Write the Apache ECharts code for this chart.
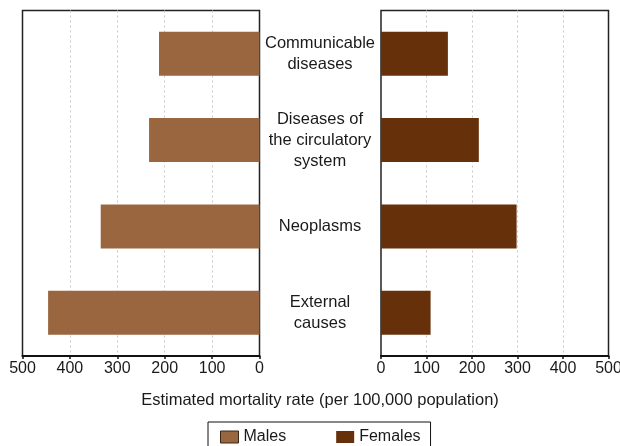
<!DOCTYPE html>
<html>
<head>
<meta charset="utf-8">
<script src="https://cdn.jsdelivr.net/npm/echarts@6/dist/echarts.min.js"></script>
<style>html,body{margin:0;padding:0;background:#fff}#c{width:620px;height:446px}</style>
</head>
<body>
<div id="c"></div>
<script>
var categories = ['Communicable\ndiseases', 'Diseases of\nthe circulatory\nsystem', 'Neoplasms', 'External\ncauses'];
var males = [212, 233, 335, 446];
var females = [147, 215, 298, 109];
var tickLabels = ['0', '100', '200', '300', '400', '500'];
var axisTitle = 'Estimated mortality rate (per 100,000 population)';

var FONT = 'Liberation Sans';
var chart = echarts.init(document.getElementById('c'), null, {renderer: 'canvas'});
function xAx(idx, inverse) {
  return {
    type: 'value', gridIndex: idx, min: 0, max: 500, interval: 100, inverse: inverse,
    axisLine: {show: true, onZero: false, lineStyle: {color: '#111', width: 2}},
    axisTick: {show: true, length: 3, lineStyle: {color: '#111', width: 1.5}},
    axisLabel: {fontFamily: FONT, fontSize: 16, color: '#1a1a1a', margin: 5,
      formatter: function (v) { return tickLabels[v / 100]; }},
    splitLine: {show: true, showMinLine: false, showMaxLine: false,
      lineStyle: {color: '#c8c8c8', type: [2, 3], width: 1}}
  };
}
var option = {
  animation: false,
  backgroundColor: '#fff',
  title: {text: axisTitle, left: 315, textAlign: 'center', top: 387,
    textStyle: {fontFamily: FONT, fontSize: 16.5, fontWeight: 'normal', color: '#1a1a1a'}},
  legend: {
    left: 208, top: 422, orient: 'horizontal', icon: 'rect',
    borderColor: '#111', borderWidth: 1, padding: [7, 10, 10, 12],
    itemWidth: 18, itemHeight: 12, itemGap: 50,
    textStyle: {fontFamily: FONT, fontSize: 16, color: '#1a1a1a'},
    data: [{name: 'Males', itemStyle: {borderColor: '#3a2616', borderWidth: 1}}, {name: 'Females'}]
  },
  grid: [
    {left: 22.5, right: 360.5, top: 10.5, bottom: 90, show: true, borderColor: '#222', borderWidth: 1.5, outerBoundsMode: 'none', containLabel: false},
    {left: 381, right: 11.5, top: 10.5, bottom: 90, show: true, borderColor: '#222', borderWidth: 1.5, outerBoundsMode: 'none', containLabel: false}
  ],
  xAxis: [xAx(0, true), xAx(1, false)],
  yAxis: [
    {type: 'category', gridIndex: 0, data: categories, inverse: true, position: 'right',
      axisLine: {show: false}, axisTick: {show: false}, axisLabel: {show: false}},
    {type: 'category', gridIndex: 1, data: categories, inverse: true, position: 'left',
      axisLine: {show: false}, axisTick: {show: false},
      axisLabel: {show: true, align: 'center', margin: 61, fontFamily: FONT, fontSize: 16.5,
        lineHeight: 21, color: '#1a1a1a'}}
  ],
  series: [
    {name: 'Males', type: 'bar', xAxisIndex: 0, yAxisIndex: 0, data: males, barWidth: 44,
      itemStyle: {color: '#9a6640'}},
    {name: 'Females', type: 'bar', xAxisIndex: 1, yAxisIndex: 1, data: females, barWidth: 44,
      itemStyle: {color: '#66300a'}}
  ]
};
chart.setOption(option);
</script>
</body>
</html>
